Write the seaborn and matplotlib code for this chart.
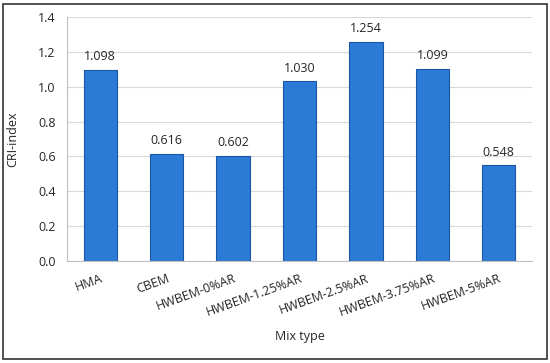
import matplotlib
matplotlib.use("Agg")
import matplotlib.pyplot as plt
import seaborn as sns
import pandas as pd

# Data
mixes = ["HMA", "CBEM", "HWBEM-0%AR", "HWBEM-1.25%AR",
         "HWBEM-2.5%AR", "HWBEM-3.75%AR", "HWBEM-5%AR"]
cri = [1.098, 0.616, 0.602, 1.030, 1.254, 1.099, 0.548]

df = pd.DataFrame({"mix": mixes, "cri": cri})

sns.set_style("white")
plt.rcParams["font.family"] = ["Open Sans", "DejaVu Sans"]

fig = plt.figure(figsize=(5.5, 3.63), dpi=100)
ax = fig.add_axes([67 / 550, 1 - 261 / 363, 465 / 550, 244 / 363])

sns.barplot(data=df, x="mix", y="cri", color="#2b7bd6", width=0.5,
            edgecolor="#1a56a3", linewidth=0.8, saturation=1, ax=ax)

for i, v in enumerate(cri):
    ax.text(i, v + 0.04, f"{v:.3f}", ha="center", va="bottom", fontsize=9)

ax.set_ylim(0, 1.4)
ax.set_yticks([0.0, 0.2, 0.4, 0.6, 0.8, 1.0, 1.2, 1.4])
ax.set_yticklabels([f"{t:.1f}" for t in ax.get_yticks()], fontsize=9)
ax.yaxis.grid(True, color="#d9d9d9", linewidth=0.8)
ax.set_axisbelow(True)
for s in ["top", "right"]:
    ax.spines[s].set_visible(False)
ax.spines["left"].set_color("#bfbfbf")
ax.spines["bottom"].set_color("#bfbfbf")
ax.tick_params(axis="y", length=0, pad=8)
ax.tick_params(axis="x", length=0, pad=8)

plt.setp(ax.get_xticklabels(), rotation=20, ha="right",
         rotation_mode="anchor", fontsize=9)

ax.set_xlabel("Mix type", fontsize=9, labelpad=8)
ax.set_ylabel("CRI-index", fontsize=9, labelpad=14)

# outer frame
fig.patches.append(plt.Rectangle((0.006, 0.012), 0.988, 0.978,
                                 transform=fig.transFigure, fill=False,
                                 edgecolor="#333333", linewidth=1.2))

fig.savefig("out.png", dpi=100)
